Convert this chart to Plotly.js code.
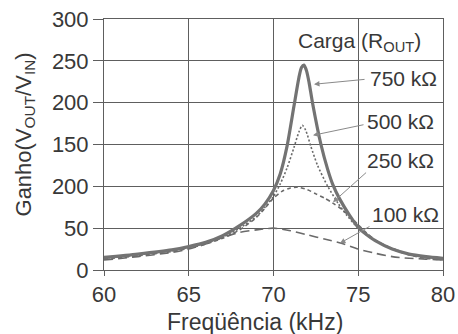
<!DOCTYPE html>
<html>
<head>
<meta charset="utf-8">
<script src="https://cdn.plot.ly/plotly-3.0.1.min.js"></script>
<style>
  html, body { margin: 0; padding: 0; background: #fff; }
  #chart { width: 458px; height: 334px; }
</style>
</head>
<body>
<div id="chart"></div>
<script>
// Frequency response of the resonant converter for four output loads
const freq750 = [60, 62, 64, 65, 66, 67, 68, 69, 69.5, 70, 70.4, 70.8, 71.2, 71.5, 71.65, 71.8, 71.95, 72.1, 72.3, 72.8, 73.2, 73.5, 73.9, 74.5, 75, 75.5, 76, 77, 78, 79, 80];
const gain750 = [15, 19, 24, 28, 33, 41, 53, 68, 79, 95, 115, 148, 195, 230, 242, 245, 238, 224, 200, 150, 120, 102, 85, 65, 51, 42, 35, 25, 19, 16, 14];

const freq500 = [60, 62, 64, 65, 66, 67, 68, 69, 69.5, 70, 70.4, 70.8, 71.2, 71.5, 71.7, 71.9, 72.2, 72.6, 73.2, 73.8, 74.3, 75, 76, 77, 78, 79, 80];
const gain500 = [14, 18, 23, 27, 32, 39, 50, 64, 75, 88, 103, 122, 146, 165, 173, 167, 148, 125, 100, 80, 66, 50, 35, 26, 19, 15, 13];

const freq250 = [60, 62, 64, 65, 66, 67, 68, 69, 69.5, 70, 70.5, 71, 71.4, 72, 72.5, 73, 73.5, 74, 74.5, 75, 75.5, 76, 77, 78, 79, 80];
const gain250 = [13, 17, 22, 26, 31, 38, 48, 63, 74, 86, 94, 98, 99, 96, 91, 86, 80, 73, 64, 54, 44, 36, 25, 18, 14, 12];

const freq100 = [60, 62, 64, 65, 66, 67, 68, 69, 70, 71, 72, 73, 74, 75, 76, 77, 78, 79, 80];
const gain100 = [12, 16, 21, 25, 31, 39, 45, 48, 50, 47, 42, 37, 32, 25, 20, 16, 14, 13, 12];

const xTicks = [60, 65, 70, 75, 80];
const yTickVals = [0, 50, 100, 150, 200, 250, 300];
const yTickText = ["0", "50", "200", "150", "200", "250", "300"];

const loadLabels = ["750 kΩ", "500 kΩ", "250 kΩ", "100 kΩ"];

const FONT = '"Liberation Sans", Arial, Helvetica, sans-serif';
const INK = '#383838';
const GRID = '#5e5e5e';

const curve = (x, y, width, dash, color, name) => ({
  x: x, y: y, name: name, type: 'scatter', mode: 'lines',
  line: { color: color, width: width, dash: dash, shape: 'spline', smoothing: 0.7 },
  hoverinfo: 'skip'
});

const traces = [
  curve(freq100, gain100, 1.6, '9px,5px', '#6a6a6a', loadLabels[3]),
  curve(freq250, gain250, 1.6, '4px,3px', '#6a6a6a', loadLabels[2]),
  curve(freq500, gain500, 1.6, '2px,2px', '#6a6a6a', loadLabels[1]),
  curve(freq750, gain750, 3.2, 'solid', '#737373', loadLabels[0])
];

// label text for each load, placed to the right of the peak
const label = (text, x, y) => ({
  x: x, y: y, xref: 'x', yref: 'y', text: text, showarrow: false,
  xanchor: 'left', yanchor: 'middle',
  font: { family: FONT, size: 21, color: INK }
});
// thin pointer from a label to its curve
const pointer = (x, y, ax, ay) => ({
  x: x, y: y, ax: ax, ay: ay, xref: 'x', yref: 'y', axref: 'x', ayref: 'y',
  text: '', showarrow: true, arrowhead: 2, arrowsize: 1.1, arrowwidth: 1,
  arrowcolor: '#8a8a8a', standoff: 0, startstandoff: 0
});

const annotations = [
  label('Carga (R<sub>OUT</sub>)', 71.33, 272),
  label(loadLabels[0], 75.58, 229),
  label(loadLabels[1], 75.4, 177),
  label(loadLabels[2], 75.4, 131),
  label(loadLabels[3], 75.7, 66),
  pointer(72.39, 222, 75.46, 228),
  pointer(72.33, 161, 75.4, 174),
  pointer(73.51, 81, 75.55, 118),
  pointer(73.92, 32, 75.75, 53),
  // axis titles, positioned relative to the plotting area
  {
    x: 0.445, y: -0.207, xref: 'paper', yref: 'paper',
    text: 'Freqüência (kHz)', showarrow: false, xanchor: 'center', yanchor: 'middle',
    font: { family: FONT, size: 23, color: INK }
  },
  {
    x: -0.233, y: 0.54, xref: 'paper', yref: 'paper',
    text: 'Ganho(V<sub>OUT</sub>/V<sub>IN</sub>)', showarrow: false, textangle: -90,
    xanchor: 'center', yanchor: 'middle',
    font: { family: FONT, size: 22, color: INK }
  }
];

const layout = {
  width: 458, height: 334,
  margin: { l: 104, r: 15, t: 19, b: 64, pad: 0 },
  paper_bgcolor: '#ffffff', plot_bgcolor: '#ffffff',
  showlegend: false,
  font: { family: FONT, color: INK },
  xaxis: {
    range: [60, 80], tickvals: xTicks, ticktext: xTicks.map(String),
    showgrid: true, gridcolor: GRID, gridwidth: 1,
    showline: true, linecolor: GRID, linewidth: 1, mirror: true,
    zeroline: false, ticks: 'outside', ticklen: 5, tickcolor: GRID,
    tickfont: { family: FONT, size: 22, color: INK }
  },
  yaxis: {
    range: [0, 300], tickvals: yTickVals, ticktext: yTickText,
    showgrid: true, gridcolor: GRID, gridwidth: 1,
    showline: true, linecolor: GRID, linewidth: 1, mirror: true,
    zeroline: false, ticks: 'outside', ticklen: 10, tickcolor: GRID,
    tickfont: { family: FONT, size: 22, color: INK }
  },
  annotations: annotations
};

Plotly.newPlot('chart', traces, layout, { staticPlot: true, displayModeBar: false });
</script>
</body>
</html>
